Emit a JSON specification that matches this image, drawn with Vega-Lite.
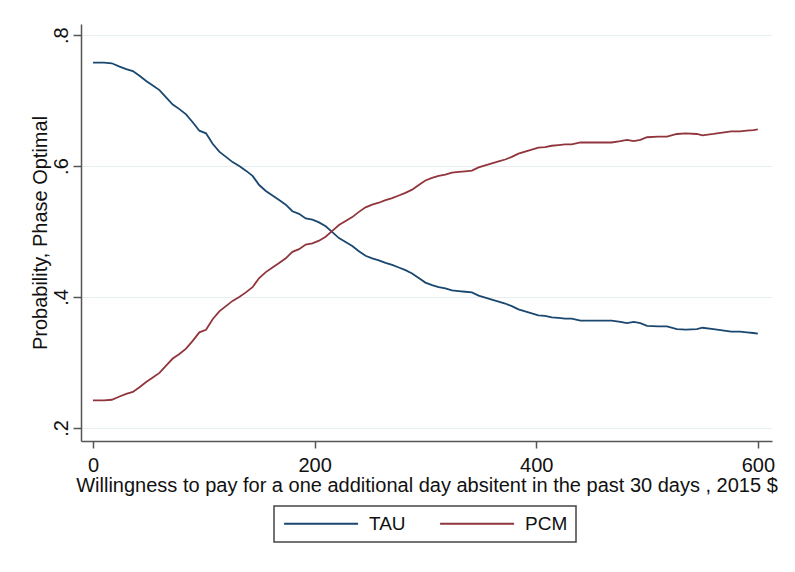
{
  "$schema": "https://vega.github.io/schema/vega-lite/v6.json",
  "autosize": {"type": "none"},
  "padding": {"left": 81, "top": 24, "right": 23, "bottom": 131},
  "width": 691,
  "height": 417,
  "background": "#ffffff",
  "config": {
    "font": "Liberation Sans",
    "view": {"stroke": null},
    "axis": {
      "labelFont": "Liberation Sans",
      "titleFont": "Liberation Sans",
      "labelFontSize": 20,
      "titleFontSize": 20,
      "titleFontWeight": "normal",
      "labelColor": "#111111",
      "titleColor": "#111111",
      "domainColor": "#555555",
      "domainWidth": 1.5,
      "tickColor": "#555555",
      "tickWidth": 1.5,
      "tickSize": 7,
      "gridColor": "#e6eef0",
      "gridWidth": 1.2
    }
  },
  "data": {
    "values": [
      {"x": 0, "TAU": 0.758, "PCM": 0.242},
      {"x": 10, "TAU": 0.758, "PCM": 0.242},
      {"x": 17, "TAU": 0.757, "PCM": 0.243},
      {"x": 24, "TAU": 0.752, "PCM": 0.248},
      {"x": 30, "TAU": 0.748, "PCM": 0.252},
      {"x": 36, "TAU": 0.745, "PCM": 0.255},
      {"x": 42, "TAU": 0.738, "PCM": 0.262},
      {"x": 48, "TAU": 0.730, "PCM": 0.270},
      {"x": 54, "TAU": 0.723, "PCM": 0.277},
      {"x": 60, "TAU": 0.716, "PCM": 0.284},
      {"x": 66, "TAU": 0.705, "PCM": 0.295},
      {"x": 72, "TAU": 0.694, "PCM": 0.306},
      {"x": 78, "TAU": 0.687, "PCM": 0.313},
      {"x": 84, "TAU": 0.679, "PCM": 0.321},
      {"x": 90, "TAU": 0.667, "PCM": 0.333},
      {"x": 96, "TAU": 0.654, "PCM": 0.346},
      {"x": 102, "TAU": 0.650, "PCM": 0.350},
      {"x": 108, "TAU": 0.634, "PCM": 0.366},
      {"x": 114, "TAU": 0.622, "PCM": 0.378},
      {"x": 120, "TAU": 0.614, "PCM": 0.386},
      {"x": 126, "TAU": 0.606, "PCM": 0.394},
      {"x": 132, "TAU": 0.600, "PCM": 0.400},
      {"x": 138, "TAU": 0.593, "PCM": 0.407},
      {"x": 144, "TAU": 0.585, "PCM": 0.415},
      {"x": 150, "TAU": 0.571, "PCM": 0.429},
      {"x": 156, "TAU": 0.562, "PCM": 0.438},
      {"x": 162, "TAU": 0.555, "PCM": 0.445},
      {"x": 168, "TAU": 0.548, "PCM": 0.452},
      {"x": 174, "TAU": 0.541, "PCM": 0.459},
      {"x": 180, "TAU": 0.531, "PCM": 0.469},
      {"x": 186, "TAU": 0.527, "PCM": 0.473},
      {"x": 192, "TAU": 0.520, "PCM": 0.480},
      {"x": 198, "TAU": 0.518, "PCM": 0.482},
      {"x": 204, "TAU": 0.514, "PCM": 0.486},
      {"x": 210, "TAU": 0.508, "PCM": 0.492},
      {"x": 216, "TAU": 0.499, "PCM": 0.501},
      {"x": 222, "TAU": 0.490, "PCM": 0.510},
      {"x": 228, "TAU": 0.484, "PCM": 0.516},
      {"x": 234, "TAU": 0.478, "PCM": 0.522},
      {"x": 240, "TAU": 0.470, "PCM": 0.530},
      {"x": 246, "TAU": 0.463, "PCM": 0.537},
      {"x": 252, "TAU": 0.459, "PCM": 0.541},
      {"x": 258, "TAU": 0.456, "PCM": 0.544},
      {"x": 264, "TAU": 0.452, "PCM": 0.548},
      {"x": 270, "TAU": 0.449, "PCM": 0.551},
      {"x": 276, "TAU": 0.445, "PCM": 0.555},
      {"x": 282, "TAU": 0.441, "PCM": 0.559},
      {"x": 288, "TAU": 0.436, "PCM": 0.564},
      {"x": 294, "TAU": 0.429, "PCM": 0.571},
      {"x": 300, "TAU": 0.422, "PCM": 0.578},
      {"x": 306, "TAU": 0.418, "PCM": 0.582},
      {"x": 312, "TAU": 0.415, "PCM": 0.585},
      {"x": 318, "TAU": 0.413, "PCM": 0.587},
      {"x": 324, "TAU": 0.410, "PCM": 0.590},
      {"x": 330, "TAU": 0.409, "PCM": 0.591},
      {"x": 336, "TAU": 0.408, "PCM": 0.592},
      {"x": 342, "TAU": 0.407, "PCM": 0.593},
      {"x": 348, "TAU": 0.402, "PCM": 0.598},
      {"x": 354, "TAU": 0.399, "PCM": 0.601},
      {"x": 360, "TAU": 0.396, "PCM": 0.604},
      {"x": 366, "TAU": 0.393, "PCM": 0.607},
      {"x": 372, "TAU": 0.390, "PCM": 0.610},
      {"x": 378, "TAU": 0.386, "PCM": 0.614},
      {"x": 384, "TAU": 0.381, "PCM": 0.619},
      {"x": 390, "TAU": 0.378, "PCM": 0.622},
      {"x": 396, "TAU": 0.375, "PCM": 0.625},
      {"x": 402, "TAU": 0.372, "PCM": 0.628},
      {"x": 408, "TAU": 0.371, "PCM": 0.629},
      {"x": 414, "TAU": 0.369, "PCM": 0.631},
      {"x": 420, "TAU": 0.368, "PCM": 0.632},
      {"x": 426, "TAU": 0.367, "PCM": 0.633},
      {"x": 432, "TAU": 0.367, "PCM": 0.633},
      {"x": 440, "TAU": 0.364, "PCM": 0.636},
      {"x": 450, "TAU": 0.364, "PCM": 0.636},
      {"x": 460, "TAU": 0.364, "PCM": 0.636},
      {"x": 468, "TAU": 0.364, "PCM": 0.636},
      {"x": 476, "TAU": 0.362, "PCM": 0.638},
      {"x": 482, "TAU": 0.360, "PCM": 0.640},
      {"x": 488, "TAU": 0.362, "PCM": 0.638},
      {"x": 494, "TAU": 0.360, "PCM": 0.640},
      {"x": 500, "TAU": 0.356, "PCM": 0.644},
      {"x": 510, "TAU": 0.355, "PCM": 0.645},
      {"x": 518, "TAU": 0.355, "PCM": 0.645},
      {"x": 527, "TAU": 0.351, "PCM": 0.649},
      {"x": 535, "TAU": 0.350, "PCM": 0.650},
      {"x": 545, "TAU": 0.351, "PCM": 0.649},
      {"x": 550, "TAU": 0.353, "PCM": 0.647},
      {"x": 560, "TAU": 0.351, "PCM": 0.649},
      {"x": 568, "TAU": 0.349, "PCM": 0.651},
      {"x": 576, "TAU": 0.347, "PCM": 0.653},
      {"x": 584, "TAU": 0.347, "PCM": 0.653},
      {"x": 590, "TAU": 0.346, "PCM": 0.654},
      {"x": 596, "TAU": 0.345, "PCM": 0.655},
      {"x": 600, "TAU": 0.344, "PCM": 0.656}
    ]
  },
  "transform": [{"fold": ["TAU", "PCM"], "as": ["series", "p"]}],
  "mark": {"type": "line", "strokeWidth": 1.8, "clip": false},
  "encoding": {
    "x": {
      "field": "x",
      "type": "quantitative",
      "scale": {"domain": [-10.8, 612.8], "nice": false, "zero": false},
      "axis": {
        "values": [0, 200, 400, 600],
        "grid": false,
        "labelPadding": 7,
        "title": "Willingness to pay for a one additional day absitent in the past 30 days , 2015 $",
        "titlePadding": 0
      }
    },
    "y": {
      "field": "p",
      "type": "quantitative",
      "scale": {"domain": [0.18, 0.817], "nice": false, "zero": false},
      "axis": {
        "values": [0.2, 0.4, 0.6, 0.8],
        "grid": true,
        "tickSize": 8,
        "labelAngle": -90,
        "labelAlign": "center",
        "labelBaseline": "alphabetic",
        "labelPadding": 6,
        "labelExpr": "replace(format(datum.value, '.1f'), '0.', '.')",
        "title": "Probability, Phase Optimal",
        "titlePadding": 1
      }
    },
    "color": {
      "field": "series",
      "type": "nominal",
      "sort": ["TAU", "PCM"],
      "scale": {"domain": ["TAU", "PCM"], "range": ["#1a476f", "#90353b"]},
      "legend": {
        "title": null,
        "orient": "none",
        "legendX": 193,
        "legendY": 482,
        "direction": "horizontal",
        "columns": 2,
        "symbolType": "M-1,0H9",
        "symbolSize": 219,
        "symbolStrokeWidth": 1.8,
        "labelFont": "Liberation Sans",
        "labelFontSize": 19,
        "labelColor": "#111111",
        "labelOffset": 68,
        "columnPadding": 30,
        "padding": 8,
        "strokeColor": "#444444",
        "fillColor": "#ffffff",
        "encode": {"legend": {"update": {"strokeWidth": {"value": 1.5}}}}
      }
    }
  }
}
